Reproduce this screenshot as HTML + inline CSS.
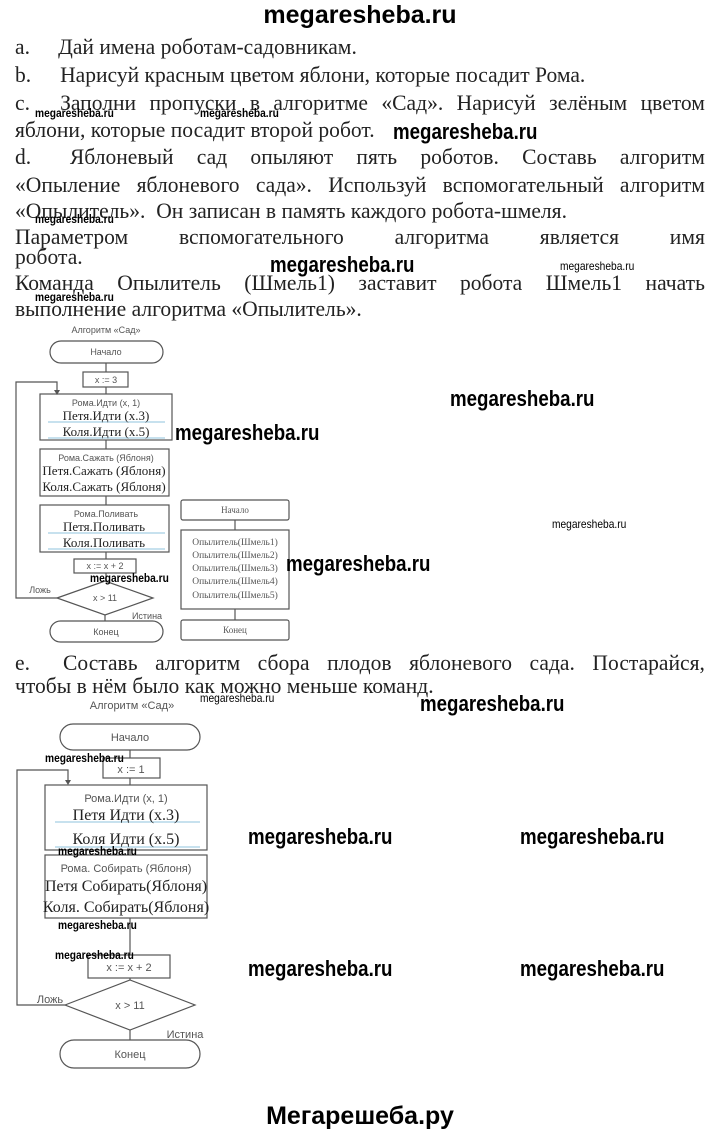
<!DOCTYPE html>
<html><head><meta charset="utf-8"><style>
html,body{margin:0;padding:0;background:#fff;}
body{width:720px;height:1137px;position:relative;overflow:hidden;font-family:"Liberation Serif","Noto Serif CJK SC",serif;color:#222;}
.l{position:absolute;left:15px;width:704px;font-size:22px;line-height:26px;white-space:nowrap;transform:scaleX(0.98);transform-origin:0 0;}
.j{text-align:justify;text-align-last:justify;}
.k{display:inline-block;text-align:left;}
.w{position:absolute;font-family:"Liberation Sans",sans-serif;font-weight:bold;color:#000;white-space:nowrap;transform:scaleX(0.85);transform-origin:0 0;}
.b{font-size:22px;}
.s{font-size:12px;}
.h{position:absolute;left:0;width:720px;text-align:center;font-family:"Liberation Sans",sans-serif;font-weight:bold;font-size:25px;color:#000;}
svg{position:absolute;left:0;top:0;}
</style></head><body>
<div class="h" style="top:1px">megaresheba.ru</div>

<div class="l" style="top:34px"><span class="k" style="width:44px">a.</span>Дай имена роботам-садовникам.</div>
<div class="l" style="top:62px"><span class="k" style="width:46px">b.</span>Нарисуй красным цветом яблони, которые посадит Рома.</div>
<div class="l j" style="top:90px"><span class="k" style="width:46px">c.</span>Заполни пропуски в алгоритме «Сад». Нарисуй зелёным цветом</div>
<div class="l" style="top:117px">яблони, которые посадит второй робот.</div>
<div class="l j" style="top:144px"><span class="k" style="width:56px">d.</span>Яблоневый сад опыляют пять роботов. Составь алгоритм</div>
<div class="l j" style="top:172px">«Опыление яблоневого сада». Используй вспомогательный алгоритм</div>
<div class="l" style="top:198px">«Опылитель». &nbsp;Он записан в память каждого робота-шмеля.</div>
<div class="l j" style="top:224px">Параметром вспомогательного алгоритма является имя</div>
<div class="l" style="top:244px">робота.</div>
<div class="l j" style="top:270px">Команда Опылитель (Шмель1) заставит робота Шмель1 начать</div>
<div class="l" style="top:296px">выполнение алгоритма «Опылитель».</div>
<div class="l j" style="top:650px"><span class="k" style="width:49px">e.</span>Составь алгоритм сбора плодов яблоневого сада. Постарайся,</div>
<div class="l" style="top:673px">чтобы в нём было как можно меньше команд.</div>

<svg width="720" height="1137" viewBox="0 0 720 1137" font-family="Liberation Sans, sans-serif">
<g fill="none" stroke="#555" stroke-width="1.2">
<rect x="50" y="341" width="113" height="22" rx="11"/>
<line x1="106" y1="363" x2="106" y2="372"/>
<rect x="83" y="372" width="45" height="15"/>
<line x1="106" y1="387" x2="106" y2="394"/>
<rect x="40" y="394" width="132" height="46"/>
<line x1="106" y1="440" x2="106" y2="449"/>
<rect x="40" y="449" width="129" height="47"/>
<line x1="106" y1="496" x2="106" y2="505"/>
<rect x="40" y="505" width="129" height="47"/>
<line x1="106" y1="552" x2="106" y2="559"/>
<rect x="74" y="559" width="62" height="14"/>
<line x1="106" y1="573" x2="106" y2="581"/>
<polygon points="57,598 105,581 153,598 105,615"/>
<line x1="105" y1="615" x2="105" y2="621"/>
<rect x="50" y="621" width="113" height="21" rx="10.5"/>
<polyline points="57,598 16,598 16,382 57,382 57,392"/>
<rect x="181" y="500" width="108" height="20" rx="2"/>
<line x1="235" y1="520" x2="235" y2="530"/>
<rect x="181" y="530" width="108" height="79"/>
<line x1="235" y1="609" x2="235" y2="620"/>
<rect x="181" y="620" width="108" height="20" rx="2"/>
<rect x="60" y="724" width="140" height="26" rx="13"/>
<line x1="130" y1="750" x2="130" y2="758"/>
<rect x="103" y="758" width="57" height="20"/>
<line x1="130" y1="778" x2="130" y2="785"/>
<rect x="45" y="785" width="162" height="65"/>
<line x1="130" y1="850" x2="130" y2="855"/>
<rect x="45" y="855" width="162" height="63"/>
<line x1="130" y1="918" x2="130" y2="955"/>
<rect x="88" y="955" width="82" height="23"/>
<line x1="130" y1="978" x2="130" y2="980"/>
<polygon points="65,1005 130,980 195,1005 130,1030"/>
<line x1="130" y1="1030" x2="130" y2="1040"/>
<rect x="60" y="1040" width="140" height="28" rx="14"/>
<polyline points="65,1005 17,1005 17,770 68,770 68,782"/>
</g>
<g stroke="#8fc3dd" stroke-width="1">
<line x1="48" y1="422" x2="165" y2="422"/><line x1="48" y1="438" x2="165" y2="438"/>
<line x1="48" y1="533" x2="165" y2="533"/><line x1="48" y1="549" x2="165" y2="549"/>
<line x1="55" y1="822" x2="200" y2="822"/><line x1="55" y1="847" x2="200" y2="847"/>
</g>
<g fill="#555"><polygon points="54,390 60,390 57,395"/><polygon points="65,780 71,780 68,785"/></g>
<g fill="#555" font-size="9" text-anchor="middle">
<text x="106" y="333">Алгоритм «Сад»</text>
<text x="106" y="355">Начало</text>
<text x="106" y="383">x := 3</text>
<text x="106" y="406">Рома.Идти (x, 1)</text>
<text x="106" y="461">Рома.Сажать (Яблоня)</text>
<text x="106" y="517">Рома.Поливать</text>
<text x="105" y="569">x := x + 2</text>
<text x="105" y="601">x &gt; 11</text>
<text x="40" y="593">Ложь</text>
<text x="147" y="619">Истина</text>
<text x="106" y="635">Конец</text>
<text x="235" y="513" font-family="Liberation Serif, serif">Начало</text>
<text x="235" y="633" font-family="Liberation Serif, serif">Конец</text>
<g font-family="Liberation Serif, serif" font-size="9.5">
<text x="235" y="545">Опылитель(Шмель1)</text>
<text x="235" y="558">Опылитель(Шмель2)</text>
<text x="235" y="571">Опылитель(Шмель3)</text>
<text x="235" y="584">Опылитель(Шмель4)</text>
<text x="235" y="598">Опылитель(Шмель5)</text>
</g>
<g fill="#222" font-family="Liberation Serif, serif" font-size="13">
<text x="106" y="420">Петя.Идти (x.3)</text>
<text x="106" y="436">Коля.Идти (x.5)</text>
<text x="104" y="475">Петя.Сажать (Яблоня)</text>
<text x="104" y="491">Коля.Сажать (Яблоня)</text>
<text x="104" y="531">Петя.Поливать</text>
<text x="104" y="547">Коля.Поливать</text>
</g>
<g font-size="11">
<text x="132" y="709">Алгоритм «Сад»</text>
<text x="130" y="741">Начало</text>
<text x="131" y="773">x := 1</text>
<text x="126" y="802">Рома.Идти (x, 1)</text>
<text x="126" y="872">Рома. Собирать (Яблоня)</text>
<text x="129" y="971">x := x + 2</text>
<text x="130" y="1009">x &gt; 11</text>
<text x="50" y="1003">Ложь</text>
<text x="185" y="1038">Истина</text>
<text x="130" y="1058">Конец</text>
</g>
<g fill="#222" font-family="Liberation Serif, serif" font-size="16">
<text x="126" y="820">Петя Идти (x.3)</text>
<text x="126" y="844">Коля Идти (x.5)</text>
<text x="126" y="891">Петя Собирать(Яблоня)</text>
<text x="126" y="912">Коля. Собирать(Яблоня)</text>
</g>
</g>
</svg>

<div class="w b" style="left:393px;top:119px">megaresheba.ru</div>
<div class="w b" style="left:270px;top:252px">megaresheba.ru</div>
<div class="w b" style="left:450px;top:386px">megaresheba.ru</div>
<div class="w b" style="left:175px;top:420px">megaresheba.ru</div>
<div class="w b" style="left:286px;top:551px">megaresheba.ru</div>
<div class="w b" style="left:420px;top:691px">megaresheba.ru</div>
<div class="w b" style="left:248px;top:824px">megaresheba.ru</div>
<div class="w b" style="left:520px;top:824px">megaresheba.ru</div>
<div class="w b" style="left:248px;top:956px">megaresheba.ru</div>
<div class="w b" style="left:520px;top:956px">megaresheba.ru</div>
<div class="w s" style="left:35px;top:106px">megaresheba.ru</div>
<div class="w s" style="left:200px;top:106px">megaresheba.ru</div>
<div class="w s" style="left:35px;top:212px">megaresheba.ru</div>
<div class="w s" style="left:560px;top:259px;font-weight:normal">megaresheba.ru</div>
<div class="w s" style="left:35px;top:290px">megaresheba.ru</div>
<div class="w s" style="left:552px;top:517px;font-weight:normal">megaresheba.ru</div>
<div class="w s" style="left:90px;top:571px">megaresheba.ru</div>
<div class="w s" style="left:200px;top:691px;font-weight:normal">megaresheba.ru</div>
<div class="w s" style="left:45px;top:751px">megaresheba.ru</div>
<div class="w s" style="left:58px;top:844px">megaresheba.ru</div>
<div class="w s" style="left:58px;top:918px">megaresheba.ru</div>
<div class="w s" style="left:55px;top:948px">megaresheba.ru</div>

<div class="h" style="top:1102px">Мегарешеба.ру</div>
</body></html>
